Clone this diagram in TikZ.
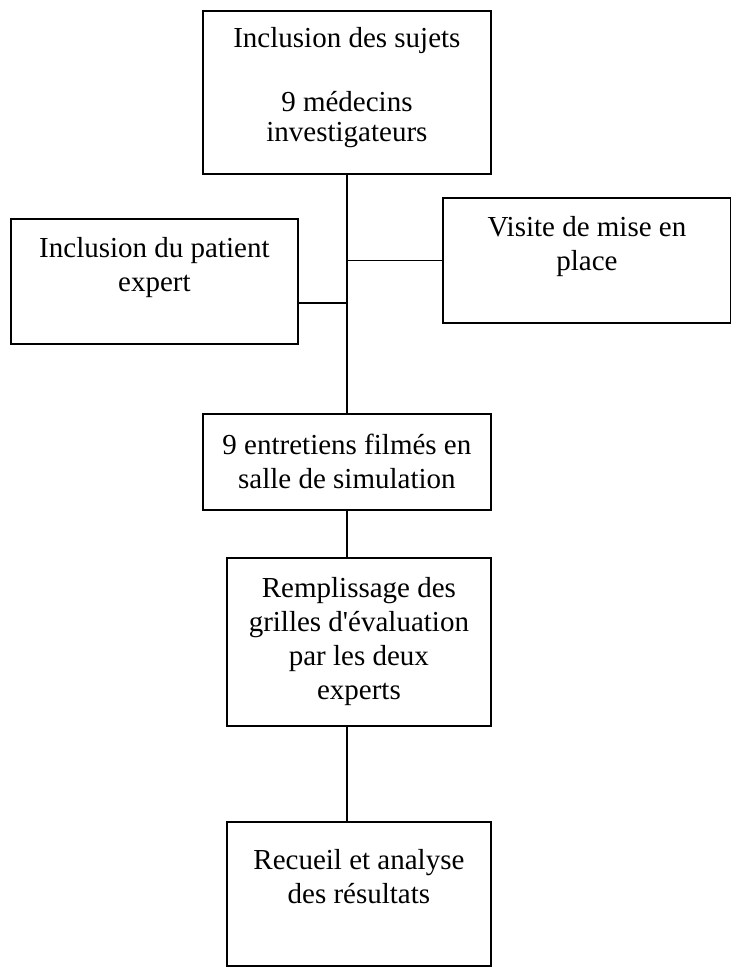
\documentclass[tikz,border=0pt]{standalone}
\usepackage{fontspec}
\setmainfont{Liberation Serif}
\tikzset{
  mybox/.style = {draw, line width=1.8pt, anchor=north west, align=center,
    inner sep=0pt, font=\fontsize{29}{34}\selectfont},
  myline/.style = {line width=1.5pt}
}

\begin{document}
\begin{tikzpicture}[x=1pt, y=-1pt]
\useasboundingbox (0,0) rectangle (731,967);

% 上の3つの箱
\node[mybox, minimum width=288pt, minimum height=163pt] (sujets) at (202,10)
  {Inclusion des sujets\\[30pt]9 médecins\\[-4pt]investigateurs\\[-18pt]~};
\node[mybox, minimum width=287pt, minimum height=125pt] (patient) at (10,218)
  {Inclusion du patient\\expert\\~};
\node[mybox, minimum width=288pt, minimum height=125pt] (visite) at (442,197)
  {Visite de mise en\\place\\~};

% 下の3つの箱
\node[mybox, minimum width=288pt, minimum height=96pt] (entretiens) at (202,413)
  {9 entretiens filmés en\\salle de simulation};
\node[mybox, minimum width=264pt, minimum height=168pt] (grilles) at (226,557)
  {Remplissage des\\grilles d\textquotesingle évaluation\\par les deux\\experts};
\node[mybox, minimum width=264pt, minimum height=144pt] (resultats) at (226,821)
  {Recueil et analyse\\des résultats\\~};

% 枝分かれの点
\coordinate (jl) at (346,303);

% 線
\draw[myline] (sujets.south) -- (entretiens.north);
\draw[myline] (visite.west) -- (visite.west -| sujets.south);
\draw[myline] (patient.east |- jl) -- (jl);
\draw[myline] (entretiens.south) -- (entretiens.south |- grilles.north);
\draw[myline] (grilles.south -| entretiens.south) -- (resultats.north -| entretiens.south);
\end{tikzpicture}
\end{document}
